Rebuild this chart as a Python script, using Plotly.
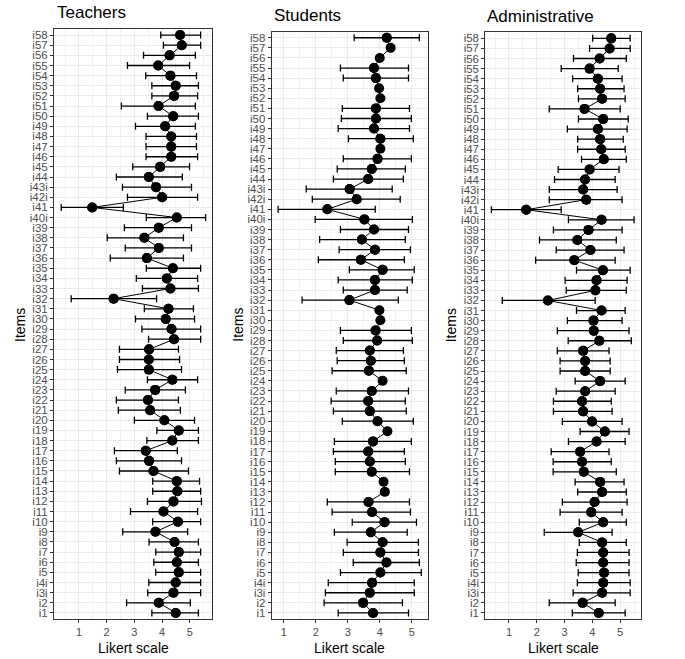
import plotly.graph_objects as go

items = ["i1", "i2", "i3i", "i4i", "i5", "i6", "i7", "i8", "i9", "i10",
         "i11", "i12", "i13", "i14", "i15", "i16", "i17", "i18", "i19", "i20",
         "i21", "i22", "i23", "i24", "i25", "i26", "i27", "i28", "i29", "i30",
         "i31", "i32", "i33", "i34", "i35", "i36", "i37", "i38", "i39", "i40i",
         "i41", "i42i", "i43i", "i44", "i45", "i46", "i47", "i48", "i49", "i50",
         "i51", "i52", "i53", "i54", "i55", "i56", "i57", "i58"]

x_ticks = [1, 2, 3, 4, 5]

teachers_mean = [4.49, 3.88, 4.41, 4.49, 4.60, 4.53, 4.60, 4.45, 3.76, 4.57,
                 4.05, 4.41, 4.55, 4.53, 3.69, 3.53, 3.41, 4.37, 4.60, 4.08,
                 3.57, 3.49, 3.75, 4.37, 3.52, 3.52, 3.53, 4.43, 4.34, 4.13,
                 4.23, 2.25, 4.30, 4.17, 4.39, 3.45, 3.88, 3.36, 3.88, 4.53,
                 1.48, 4.00, 3.78, 3.52, 3.93, 4.33, 4.33, 4.33, 4.11, 4.40,
                 3.87, 4.43, 4.49, 4.30, 3.86, 4.27, 4.71, 4.65]
teachers_lo = [3.63, 2.72, 3.48, 3.52, 3.77, 3.70, 3.77, 3.53, 2.58, 3.66,
               2.86, 3.47, 3.66, 3.66, 2.46, 2.35, 2.28, 3.45, 3.81, 3.00,
               2.42, 2.35, 2.67, 3.47, 2.39, 2.46, 2.46, 3.51, 3.27, 3.04,
               3.36, 0.72, 3.29, 3.07, 3.43, 2.13, 2.67, 2.02, 2.64, 3.43,
               0.36, 2.75, 2.57, 2.35, 2.94, 3.42, 3.42, 3.42, 3.04, 3.47,
               2.53, 3.63, 3.63, 3.41, 2.75, 3.33, 4.05, 3.95]
teachers_hi = [5.31, 5.02, 5.39, 5.39, 5.39, 5.31, 5.39, 5.31, 4.92, 5.39,
               5.28, 5.42, 5.39, 5.35, 4.95, 4.70, 4.55, 5.31, 5.31, 5.17,
               4.66, 4.59, 4.84, 5.28, 4.70, 4.63, 4.59, 5.39, 5.39, 5.17,
               5.13, 3.80, 5.31, 5.28, 5.39, 4.77, 5.06, 4.77, 5.06, 5.57,
               2.60, 5.28, 5.06, 4.73, 4.99, 5.28, 5.24, 5.24, 5.20, 5.31,
               5.20, 5.28, 5.31, 5.24, 4.99, 5.20, 5.39, 5.39]

students_mean = [3.79, 3.48, 3.69, 3.76, 4.02, 4.21, 4.02, 4.09, 3.72, 4.15,
                 3.76, 3.65, 4.16, 4.12, 3.75, 3.69, 3.64, 3.79, 4.24, 3.93,
                 3.69, 3.64, 3.75, 4.09, 3.66, 3.72, 3.69, 3.92, 3.87, 4.02,
                 3.99, 3.05, 3.85, 3.85, 4.09, 3.41, 3.85, 3.44, 3.82, 3.52,
                 2.36, 3.28, 3.06, 3.64, 3.75, 3.93, 4.02, 4.02, 3.82, 3.88,
                 3.88, 4.02, 3.98, 3.88, 3.82, 4.00, 4.34, 4.22]
students_lo = [2.70, 2.26, 2.30, 2.39, 2.77, 3.17, 2.86, 2.98, 2.58, 3.14,
               2.51, 2.36, None, None, 2.61, 2.61, 2.55, 2.58, None, 2.83,
               2.55, 2.48, 2.64, None, 2.51, 2.67, 2.64, 2.86, 2.77, None,
               None, 1.57, 2.86, 2.70, 3.05, 2.08, 2.73, 2.12, 2.77, 1.98,
               0.82, 1.89, 1.70, 2.55, 2.67, 2.86, None, 3.02, 2.70, 2.80,
               2.83, None, None, 2.86, 2.77, None, None, 3.20]
students_hi = [4.90, 4.71, 5.08, 5.08, 5.30, 5.24, 5.21, 5.21, 4.86, 5.15,
               4.96, 4.93, None, None, 4.93, 4.80, 4.77, 4.99, None, 5.05,
               4.83, 4.80, 4.90, None, 4.83, 4.77, 4.74, 5.02, 4.99, None,
               None, 4.58, 4.86, 5.02, 5.08, 4.77, 4.96, 4.80, 4.90, 5.02,
               3.86, 4.64, 4.39, 4.74, 4.80, 4.99, None, 5.05, 4.93, 4.99,
               4.93, None, None, 4.90, 4.90, None, None, 5.24]

admin_mean = [4.23, 3.65, 4.35, 4.39, 4.42, 4.39, 4.39, 4.35, 3.49, 4.39,
              3.96, 4.08, 4.35, 4.28, 3.69, 3.63, 3.56, 4.15, 4.45, 3.99,
              3.67, 3.63, 3.74, 4.28, 3.74, 3.74, 3.67, 4.25, 4.05, 4.04,
              4.33, 2.40, 4.11, 4.15, 4.38, 3.35, 3.93, 3.46, 3.86, 4.33,
              1.62, 3.78, 3.67, 3.74, 3.90, 4.41, 4.32, 4.28, 4.20, 4.39,
              3.72, 4.35, 4.28, 4.20, 3.90, 4.26, 4.62, 4.68]
admin_lo = [3.28, 2.45, 3.31, 3.46, 3.49, 3.42, 3.46, 3.53, 2.27, 3.53,
            2.84, 2.92, 3.47, 3.38, 2.59, 2.59, 2.52, 3.14, 3.56, 2.92,
            2.60, 2.60, 2.70, 3.38, 2.84, 2.84, 2.74, 3.13, 2.74, 3.10,
            3.43, 0.76, 3.06, 3.02, 3.43, 1.96, 2.70, 2.10, 2.60, 3.14,
            0.37, 2.45, 2.45, 2.64, 2.77, 3.61, 3.47, 3.47, 3.10, 3.50,
            2.45, 3.50, 3.47, 3.29, 2.88, 3.32, 3.90, 4.01]
admin_hi = [5.18, 4.82, 5.36, 5.36, 5.32, 5.32, 5.32, 5.22, 4.71, 5.22,
            5.07, 5.25, 5.22, 5.14, 4.86, 4.68, 4.60, 5.18, 5.32, 5.07,
            4.71, 4.68, 4.82, 5.18, 4.64, 4.64, 4.60, 5.40, 5.32, 5.07,
            5.18, 4.10, 5.22, 5.25, 5.36, 4.82, 5.14, 4.86, 5.07, 5.50,
            2.88, 5.07, 4.89, 4.82, 4.96, 5.22, 5.18, 5.11, 5.25, 5.29,
            5.00, 5.18, 5.14, 5.07, 4.93, 5.22, 5.36, 5.36]

panels = [
    ("Teachers", teachers_mean, teachers_lo, teachers_hi,
     [54, 212], 29, [0.10, 5.80], 55, 13),
    ("Students", students_mean, students_lo, students_hi,
     [271.7, 428], 31.7, [0.62, 5.51], 271.7, 16),
    ("Administrative", admin_mean, admin_lo, admin_hi,
     [485.3, 641.3], 32.3, [0.15, 5.76], 485, 17),
]

W, H = 685, 659
bottom_px = 619
FONT = "Liberation Sans, Arial, sans-serif"

fig = go.Figure()
annotations = []

for k, (name, mean, lo, hi, xpx, top_px, xr, tx, ty) in enumerate(panels):
    idx = "" if k == 0 else str(k + 1)
    xa, ya = "x" + idx, "y" + idx

    # connecting line + points
    fig.add_trace(go.Scatter(
        x=mean, y=items, mode="lines+markers", xaxis=xa, yaxis=ya,
        line=dict(color="black", width=1),
        marker=dict(color="black", size=10),
        showlegend=False, hoverinfo="skip"))

    # error bars (only rows with both limits)
    ex, ey, ep, em = [], [], [], []
    for m, l, h, it in zip(mean, lo, hi, items):
        if l is not None and h is not None:
            ex.append(m); ey.append(it); ep.append(h - m); em.append(m - l)
    fig.add_trace(go.Scatter(
        x=ex, y=ey, mode="markers", xaxis=xa, yaxis=ya,
        marker=dict(color="black", size=10),
        error_x=dict(type="data", symmetric=False, array=ep, arrayminus=em,
                     color="black", thickness=1.3, width=3.5),
        showlegend=False, hoverinfo="skip"))

    xdom = [xpx[0] / W, xpx[1] / W]
    ydom = [1 - bottom_px / H, 1 - top_px / H]
    fig.layout["xaxis" + idx] = dict(
        domain=xdom, range=xr, anchor=ya,
        tickmode="array", tickvals=x_ticks, ticktext=[str(v) for v in x_ticks],
        showgrid=True, gridcolor="#EBEBEB", gridwidth=1,
        minor=dict(dtick=0.5, tick0=0.5, showgrid=True, gridcolor="#F2F2F2", gridwidth=0.6),
        showline=True, linecolor="#333333", linewidth=1, mirror=True,
        ticks="outside", ticklen=3, tickcolor="#333333",
        tickfont=dict(family=FONT, size=11, color="#4D4D4D"),
        zeroline=False, fixedrange=True)
    fig.layout["yaxis" + idx] = dict(
        domain=ydom, type="category", categoryorder="array", categoryarray=items,
        range=[-0.6, len(items) - 0.4], anchor=xa,
        tickmode="array", tickvals=items, ticktext=items,
        showgrid=True, gridcolor="#EBEBEB", gridwidth=1,
        showline=True, linecolor="#333333", linewidth=1, mirror=True,
        ticks="outside", ticklen=3, tickcolor="#333333",
        tickfont=dict(family=FONT, size=11.5, color="#4D4D4D"),
        zeroline=False, fixedrange=True)

    # panel title
    annotations.append(dict(
        text=name, xref="paper", yref="paper", x=tx / W, y=1 - ty / H,
        xanchor="left", yanchor="middle", showarrow=False,
        font=dict(family=FONT, size=17, color="black")))
    # axis titles
    annotations.append(dict(
        text="Likert scale", xref="paper", yref="paper",
        x=(xpx[0] + xpx[1]) / 2 / W, y=1 - 648 / H,
        xanchor="center", yanchor="middle", showarrow=False,
        font=dict(family=FONT, size=14, color="black")))
    annotations.append(dict(
        text="Items", xref="paper", yref="paper",
        x=(xpx[0] - 34) / W, y=1 - 325 / H, textangle=-90,
        xanchor="center", yanchor="middle", showarrow=False,
        font=dict(family=FONT, size=14, color="black")))

fig.update_layout(
    width=W, height=H, margin=dict(l=0, r=0, t=0, b=0),
    paper_bgcolor="white", plot_bgcolor="white",
    annotations=annotations, showlegend=False)

fig.write_html("out.html", config={"displayModeBar": False},
               post_script="document.body.style.margin='0';document.body.style.padding='0';")
